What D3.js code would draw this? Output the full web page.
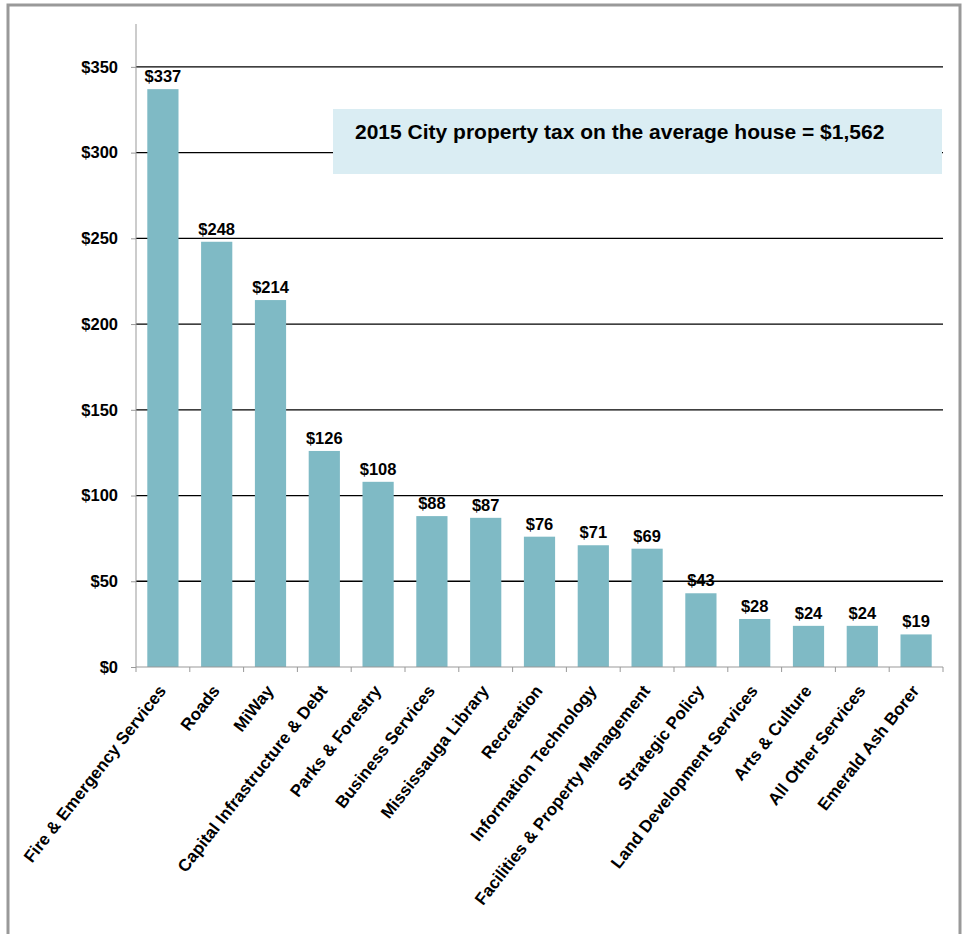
<!DOCTYPE html>
<html>
<head>
<meta charset="utf-8">
<script src="https://cdn.jsdelivr.net/npm/d3@7"></script>
<style>
  body { margin: 0; background: #fff; }
  text { font-family: "Liberation Sans", Arial, sans-serif; font-weight: bold; fill: #000; }
</style>
</head>
<body>
<svg id="chart" width="962" height="934"></svg>
<script>
// données
const categories = ["Fire & Emergency Services", "Roads", "MiWay", "Capital Infrastructure & Debt",
  "Parks & Forestry", "Business Services", "Mississauga Library", "Recreation",
  "Information Technology", "Facilities & Property Management", "Strategic Policy",
  "Land Development Services", "Arts & Culture", "All Other Services", "Emerald Ash Borer"];
const values = [337, 248, 214, 126, 108, 88, 87, 76, 71, 69, 43, 28, 24, 24, 19];
const yTicks = [0, 50, 100, 150, 200, 250, 300, 350];
const note = "2015 City property tax on the average house = $1,562";

const svg = d3.select('#chart');

// cadre extérieur
svg.append('rect')
  .attr('x', 8).attr('y', 5)
  .attr('width', 952).attr('height', 940)
  .attr('fill', 'none')
  .attr('stroke', '#999')
  .attr('stroke-width', 3);

const margin = { top: 24, left: 136, right: 19, bottom: 267 };
const width = 962 - margin.left - margin.right;
const height = 934 - margin.top - margin.bottom;

const g = svg.append('g').attr('transform', `translate(${margin.left},${margin.top})`);

const x = d3.scaleBand().domain(categories).range([0, width]).paddingInner(0.42).paddingOuter(0.21);
const y = d3.scaleLinear().domain([0, 375]).range([height, 0]);

// lignes de grille
g.selectAll('line.grid')
  .data(yTicks.filter(d => d > 0))
  .enter().append('line')
  .attr('class', 'grid')
  .attr('x1', 0).attr('x2', width)
  .attr('y1', d => y(d)).attr('y2', d => y(d))
  .attr('stroke', '#000')
  .attr('stroke-width', 1.3);

// barres
g.selectAll('rect.bar')
  .data(values)
  .enter().append('rect')
  .attr('class', 'bar')
  .attr('x', (d, i) => x(categories[i]))
  .attr('y', d => y(d))
  .attr('width', x.bandwidth())
  .attr('height', d => height - y(d))
  .attr('fill', '#7fbac5');

// étiquettes de valeur
g.selectAll('text.val')
  .data(values)
  .enter().append('text')
  .attr('class', 'val')
  .attr('x', (d, i) => x(categories[i]) + x.bandwidth() / 2)
  .attr('y', d => y(d) - 7)
  .attr('text-anchor', 'middle')
  .attr('font-size', 16.5)
  .text(d => '$' + d);

// axe y
const yAxis = g.append('g')
  .call(d3.axisLeft(y).tickValues(yTicks).tickSize(5).tickPadding(13).tickFormat(d => '$' + d));
yAxis.select('.domain').attr('stroke', '#999').attr('d', `M0,0V${height}`);
yAxis.selectAll('.tick line').attr('stroke', '#999');
yAxis.selectAll('.tick text').attr('font-size', 16.5).attr('font-family', '"Liberation Sans", Arial, sans-serif').attr('font-weight', 'bold');

// axe x
const step = width / categories.length;
const xAxis = g.append('g').attr('transform', `translate(0,${height})`);
xAxis.append('line').attr('x1', 0).attr('x2', width).attr('stroke', '#999');
xAxis.selectAll('line.tk')
  .data(d3.range(categories.length + 1))
  .enter().append('line')
  .attr('class', 'tk')
  .attr('x1', d => d * step).attr('x2', d => d * step)
  .attr('y1', 0).attr('y2', 5)
  .attr('stroke', '#999');
xAxis.selectAll('text.cat')
  .data(categories)
  .enter().append('text')
  .attr('class', 'cat')
  .attr('font-size', 17)
  .attr('text-anchor', 'end')
  .attr('transform', d => `translate(${x(d) + x.bandwidth() / 2 + 4},${24}) rotate(-52)`)
  .text(d => d);

// encadré
svg.append('rect')
  .attr('x', 333).attr('y', 109)
  .attr('width', 609).attr('height', 65)
  .attr('fill', '#daedf3');
svg.append('text')
  .attr('x', 355).attr('y', 139)
  .attr('font-size', 21)
  .text(note);
</script>
</body>
</html>
